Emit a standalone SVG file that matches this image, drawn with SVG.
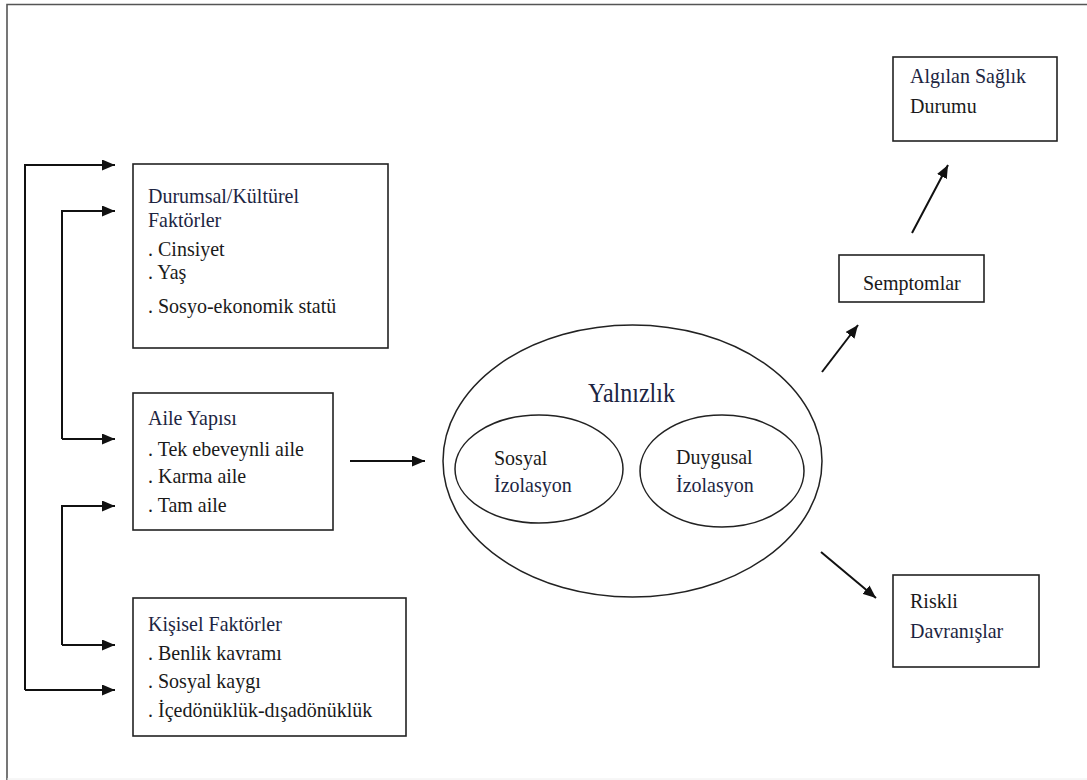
<svg xmlns="http://www.w3.org/2000/svg" width="1087" height="780" viewBox="0 0 1087 780" font-family="Liberation Serif, serif" font-size="20">
<defs>
<style>
.box{fill:#fff;stroke:#222;stroke-width:1.6}
.ell{fill:none;stroke:#222;stroke-width:1.5}
.n{fill:#1c2542}
.con{stroke:#111;stroke-width:2;fill:none}
</style>
<marker id="ah" viewBox="0 0 13 11" refX="13" refY="5.5" markerWidth="13" markerHeight="11" markerUnits="userSpaceOnUse" orient="auto">
<path d="M0,0 L13,5.5 L0,11 Z" fill="#111"/>
</marker>
</defs>
<rect width="1087" height="780" fill="#fff"/>
<g id="frame">
<path d="M7,780 V4.5 H1087" fill="none" stroke="#555" stroke-width="1.6"/>
<line x1="7" y1="779" x2="1087" y2="779" stroke="#eee" stroke-width="1"/>
</g>
<g id="connectors">
<path class="con" d="M25,690 V165 H115" marker-end="url(#ah)"/>
<path class="con" d="M25,690 H115" marker-end="url(#ah)"/>
<path class="con" d="M62,439 V211 H115" marker-end="url(#ah)"/>
<path class="con" d="M62,439 H115" marker-end="url(#ah)"/>
<path class="con" d="M62,645 V506 H115" marker-end="url(#ah)"/>
<path class="con" d="M62,645 H115" marker-end="url(#ah)"/>
<line class="con" x1="350" y1="461" x2="425" y2="461" marker-end="url(#ah)"/>
<line class="con" x1="822" y1="372" x2="858" y2="325" marker-end="url(#ah)"/>
<line class="con" x1="912" y1="233" x2="948" y2="165" marker-end="url(#ah)"/>
<line class="con" x1="821" y1="552" x2="876" y2="598" marker-end="url(#ah)"/>
</g>
<g id="durumsal" fill="#1a1a1a">
<rect class="box" x="133" y="164" width="255" height="184"/>
<text class="n" transform="translate(148,203) scale(1,1.1)">Durumsal/Kültürel</text>
<text class="n" transform="translate(148,227) scale(1,1.1)">Faktörler</text>
<text transform="translate(148,256) scale(1,1.1)">. Cinsiyet</text>
<text transform="translate(148,279) scale(1,1.1)">. Yaş</text>
<text transform="translate(148,313) scale(1,1.1)">. Sosyo-ekonomik statü</text>
</g>
<g id="aile" fill="#1a1a1a">
<rect class="box" x="133" y="393" width="200" height="137"/>
<text class="n" transform="translate(148,425) scale(1,1.1)">Aile Yapısı</text>
<text transform="translate(148,456) scale(1,1.1)">. Tek ebeveynli aile</text>
<text transform="translate(148,483) scale(1,1.1)">. Karma aile</text>
<text transform="translate(148,512) scale(1,1.1)">. Tam aile</text>
</g>
<g id="kisisel" fill="#1a1a1a">
<rect class="box" x="133" y="598" width="273" height="138"/>
<text class="n" transform="translate(148,631) scale(1,1.1)">Kişisel Faktörler</text>
<text transform="translate(148,660) scale(1,1.1)">. Benlik kavramı</text>
<text transform="translate(148,688) scale(1,1.1)">. Sosyal kaygı</text>
<text transform="translate(148,717) scale(1,1.1)">. İçedönüklük-dışadönüklük</text>
</g>
<g id="yalnizlik" fill="#1a1a1a">
<ellipse class="ell" cx="632.5" cy="461" rx="189.5" ry="136"/>
<text class="n" font-size="24" transform="translate(588,402) scale(1,1.1)">Yalnızlık</text>
</g>
<g id="sosyal" fill="#1a1a1a">
<ellipse class="ell" cx="539" cy="469" rx="84" ry="54"/>
<text transform="translate(494,465) scale(1,1.1)">Sosyal</text>
<text class="n" transform="translate(494,492) scale(1,1.1)">İzolasyon</text>
</g>
<g id="duygusal" fill="#1a1a1a">
<ellipse class="ell" cx="722" cy="471" rx="82" ry="56"/>
<text transform="translate(676,464) scale(1,1.1)">Duygusal</text>
<text class="n" transform="translate(676,492) scale(1,1.1)">İzolasyon</text>
</g>
<g id="algilan" fill="#1a1a1a">
<rect class="box" x="893" y="57" width="164" height="84"/>
<text class="n" transform="translate(910,83) scale(1,1.1)">Algılan Sağlık</text>
<text transform="translate(910,113) scale(1,1.1)">Durumu</text>
</g>
<g id="semptomlar" fill="#1a1a1a">
<rect class="box" x="839" y="255" width="145" height="47"/>
<text transform="translate(863,290) scale(1,1.1)">Semptomlar</text>
</g>
<g id="riskli" fill="#1a1a1a">
<rect class="box" x="893" y="575" width="146" height="92"/>
<text transform="translate(910,608) scale(1,1.1)">Riskli</text>
<text class="n" transform="translate(910,638) scale(1,1.1)">Davranışlar</text>
</g>
</svg>
